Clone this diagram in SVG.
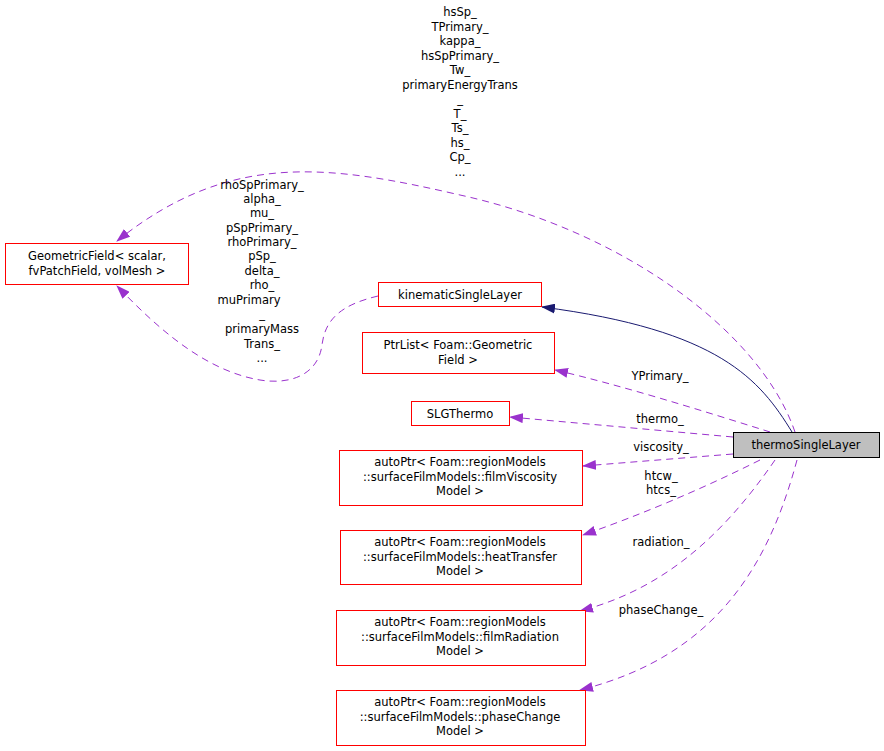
<svg xmlns="http://www.w3.org/2000/svg" width="884" height="751" viewBox="0 0 884 751">
<style>
text{font-family:"DejaVu Sans",sans-serif;font-size:11.5px;fill:#000;text-anchor:middle}
.n{fill:#fff;stroke:#ff0000;stroke-width:1}
.e{fill:none;stroke:#9a32cd;stroke-dasharray:7,5}
</style>
<defs>
<marker id="p" markerWidth="14" markerHeight="10" refX="13" refY="5" orient="auto" markerUnits="userSpaceOnUse"><path d="M0,0 L14,5 L0,10 z" fill="#9a32cd"/></marker>
<marker id="b" markerWidth="14" markerHeight="10" refX="13" refY="5" orient="auto" markerUnits="userSpaceOnUse"><path d="M0,0 L14,5 L0,10 z" fill="#191970"/></marker>
</defs>
<rect width="884" height="751" fill="#fff"/>
<g id="edges">
<path class="e" marker-end="url(#p)" d="M795,432 C760,330 620,230 460,195 C330,165 230,150 117,241"/>
<path class="e" marker-end="url(#p)" d="M378,296 C340,305 325,320 322,345 C318,375 290,385 260,380 C200,370 150,320 117,286"/>
<path fill="none" stroke="#191970" marker-end="url(#b)" d="M792,432 C760,380 720,330 542,307"/>
<path class="e" marker-end="url(#p)" d="M770,432 C700,410 620,385 555,370"/>
<path class="e" marker-end="url(#p)" d="M733,437 L510,417"/>
<path class="e" marker-end="url(#p)" d="M733,454 L583,466"/>
<path class="e" marker-end="url(#p)" d="M760,460 C700,490 640,515 583,535"/>
<path class="e" marker-end="url(#p)" d="M775,460 C720,540 660,590 580,611"/>
<path class="e" marker-end="url(#p)" d="M797,460 C770,560 720,655 580,690"/>
<g>
<text x="460" y="16">hsSp_</text><text x="460" y="31">TPrimary_</text><text x="460" y="45">kappa_</text><text x="460" y="60">hsSpPrimary_</text><text x="460" y="74">Tw_</text><text x="460" y="89">primaryEnergyTrans</text><text x="460" y="103">_</text><text x="460" y="118">T_</text><text x="460" y="132">Ts_</text><text x="460" y="147">hs_</text><text x="460" y="161">Cp_</text><text x="460" y="176">...</text>
<text x="262" y="189">rhoSpPrimary_</text><text x="262" y="203">alpha_</text><text x="262" y="217">mu_</text><text x="262" y="232">pSpPrimary_</text><text x="262" y="246">rhoPrimary_</text><text x="262" y="260">pSp_</text><text x="262" y="275">delta_</text><text x="262" y="289">rho_</text><text x="249" y="304">muPrimary</text><text x="262" y="318">_</text><text x="262" y="333">primaryMass</text><text x="262" y="348">Trans_</text><text x="262" y="362">...</text>
<text x="660" y="380">YPrimary_</text>
<text x="660" y="423">thermo_</text>
<text x="661" y="451">viscosity_</text>
<text x="661" y="480">htcw_</text><text x="661" y="494">htcs_</text>
<text x="661" y="546">radiation_</text>
<text x="661" y="614">phaseChange_</text>
</g>
</g>
<g id="thermoSingleLayer"><rect x="733.5" y="432.5" width="146" height="25" fill="#bfbfbf" stroke="#000"/><text x="806" y="449">thermoSingleLayer</text></g>
<g id="GeometricField"><rect class="n" x="5.5" y="243.5" width="183" height="41"/><text x="97" y="260">GeometricField&lt; scalar,</text><text x="97" y="275">fvPatchField, volMesh &gt;</text></g>
<g id="kinematicSingleLayer"><rect class="n" x="378.5" y="282.5" width="163" height="24"/><text x="460" y="299">kinematicSingleLayer</text></g>
<g id="PtrList"><rect class="n" x="362.5" y="332.5" width="192" height="41"/><text x="458" y="349">PtrList&lt; Foam::Geometric</text><text x="458" y="364">Field &gt;</text></g>
<g id="SLGThermo"><rect class="n" x="411.5" y="401.5" width="98" height="24"/><text x="460" y="418">SLGThermo</text></g>
<g id="filmViscosity"><rect class="n" x="339.5" y="450.5" width="243" height="55"/><text x="460" y="466">autoPtr&lt; Foam::regionModels</text><text x="460" y="481">::surfaceFilmModels::filmViscosity</text><text x="460" y="495">Model &gt;</text></g>
<g id="heatTransfer"><rect class="n" x="340.5" y="530.5" width="241" height="54"/><text x="460" y="546">autoPtr&lt; Foam::regionModels</text><text x="460" y="561">::surfaceFilmModels::heatTransfer</text><text x="460" y="575">Model &gt;</text></g>
<g id="filmRadiation"><rect class="n" x="336.5" y="610.5" width="249" height="55"/><text x="460" y="626">autoPtr&lt; Foam::regionModels</text><text x="460" y="641">::surfaceFilmModels::filmRadiation</text><text x="460" y="655">Model &gt;</text></g>
<g id="phaseChange"><rect class="n" x="336.5" y="690.5" width="249" height="55"/><text x="460" y="706">autoPtr&lt; Foam::regionModels</text><text x="460" y="721">::surfaceFilmModels::phaseChange</text><text x="460" y="735">Model &gt;</text></g>
</svg>
